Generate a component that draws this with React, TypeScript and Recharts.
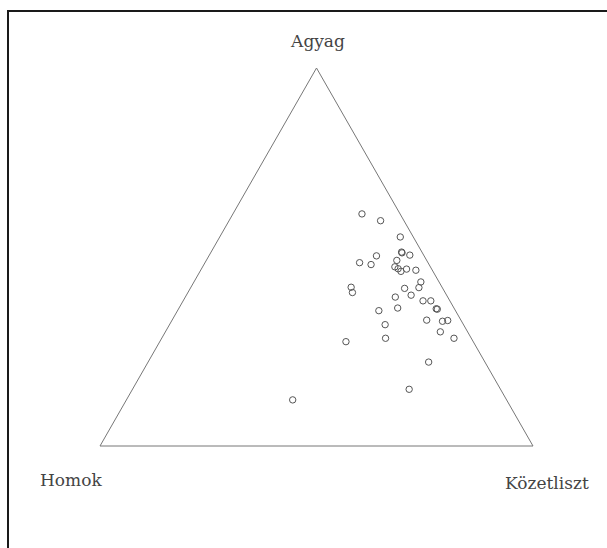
import React from "react";
import { ScatterChart, Scatter, XAxis, YAxis, ReferenceLine } from "recharts";

// soil texture samples (%)
const agyag = [
  61.4, 59.6, 55.3, 51.3, 51.1, 50.5, 50.3, 48.5, 48.0, 49.1,
  47.4, 46.9, 46.2, 46.8, 46.5, 43.4, 41.9, 41.7, 42.0, 40.6,
  39.4, 39.9, 38.4, 38.4, 36.3, 36.2, 36.5, 35.8, 33.3, 33.0,
  33.2, 32.1, 30.2, 28.5, 27.6, 28.5, 22.2, 15.0, 12.2,
];
const kozetliszt = [
  29.8, 35.0, 41.7, 44.0, 44.2, 46.3, 38.7, 35.7, 38.6, 44.0,
  44.4, 45.4, 46.4, 47.4, 49.7, 52.4, 52.7, 49.5, 37.0, 38.0,
  48.5, 51.9, 55.4, 57.2, 59.5, 59.8, 50.5, 46.5, 58.8, 62.6,
  63.7, 49.8, 63.5, 51.7, 43.0, 67.5, 64.8, 63.9, 38.4,
];
// homok = 100 - agyag - kozetliszt
const homok = agyag.map((a, i) => Math.round((100 - a - kozetliszt[i]) * 10) / 10);

const cornerLabels = ["Homok", "Közetliszt", "Agyag"];
// triangle corners in (x, y) of the ternary projection
const corners = [
  { x: 0, y: 0 },
  { x: 100, y: 0 },
  { x: 50, y: 100 },
];

// ternary -> cartesian: x = silt + clay/2, y = clay
const points = agyag.map((a, i) => ({
  x: kozetliszt[i] + a / 2,
  y: a,
  homok: homok[i],
}));

const W = 607;
const H = 548;
const textStyle = { fontFamily: "'DejaVu Serif', serif", fontSize: 17, fill: "#444" };

export default function App() {
  return (
    <div style={{ position: "absolute", left: 0, top: 0, width: W, height: H, overflow: "hidden", background: "#fff" }}>
      <div
        style={{
          position: "absolute",
          left: 7,
          top: 10,
          width: 700,
          height: 700,
          borderTop: "2px solid #1a1a1a",
          borderLeft: "2px solid #1a1a1a",
        }}
      />
      <div style={{ position: "absolute", left: 0, top: 0 }}>
        <ScatterChart width={W} height={H} margin={{ top: 68, right: 74, bottom: 102, left: 100 }}>
          <XAxis type="number" dataKey="x" domain={[0, 100]} hide />
          <YAxis type="number" dataKey="y" domain={[0, 100]} hide />
          {corners.map((c, i) => {
            const n = corners[(i + 1) % corners.length];
            return (
              <ReferenceLine
                key={i}
                segment={[c, n]}
                stroke="#777"
                strokeWidth={1}
                ifOverflow="visible"
              />
            );
          })}
          <Scatter
            data={points}
            isAnimationActive={false}
            shape={(p: any) => (
              <circle cx={p.cx} cy={p.cy} r={3.2} fill="none" stroke="#555" strokeWidth={1} />
            )}
          />
        </ScatterChart>
      </div>
      <svg width={W} height={H} style={{ position: "absolute", left: 0, top: 0, pointerEvents: "none" }}>
        <text x={40} y={486} style={textStyle}>{cornerLabels[0]}</text>
        <text x={505} y={489} style={textStyle}>{cornerLabels[1]}</text>
        <text x={318} y={47} textAnchor="middle" style={textStyle}>{cornerLabels[2]}</text>
      </svg>
    </div>
  );
}
